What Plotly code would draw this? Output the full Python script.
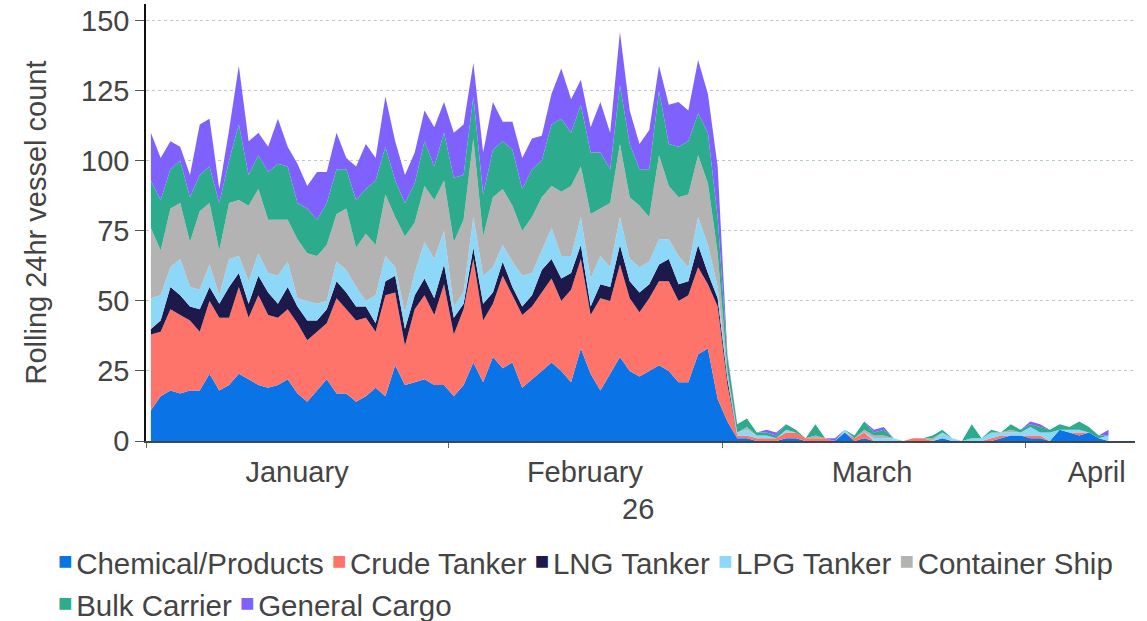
import plotly.graph_objects as go
import pandas as pd

# daily rolling 24hr counts, 1 Jan - 9 Apr 2026
dates = pd.date_range("2026-01-01 12:00", periods=99, freq="D")

chemical_products = [11, 16, 18, 17, 18, 18, 24, 18, 20, 24, 22, 20, 19, 20, 22, 17, 14, 18, 22, 17,
                     17, 14, 16, 19, 16, 27, 20, 21, 22, 20, 20, 16, 20, 28, 21, 30, 26, 28, 19, 22,
                     25, 28, 25, 21, 33, 24, 18, 24, 30, 25, 23, 25, 27, 25, 21, 21, 31, 33, 15, 7,
                     1, 1, 0, 0, 0, 1, 1, 0, 0, 0, 0, 3, 0, 1, 0, 0, 0, 0, 0, 0,
                     0, 1, 0, 0, 0, 0, 0, 1, 2, 2, 1, 1, 0, 4, 3, 2, 3, 1, 0]
crude_tanker = [27, 23, 29, 28, 25, 21, 26, 26, 24, 31, 22, 32, 26, 24, 25, 25, 22, 21, 20, 34,
                30, 29, 28, 20, 36, 26, 14, 26, 30, 25, 36, 22, 27, 37, 22, 19, 33, 24, 26, 26,
                28, 30, 25, 33, 32, 21, 33, 26, 33, 26, 23, 26, 30, 32, 29, 31, 31, 23, 33, 13,
                1, 1, 1, 1, 1, 2, 2, 1, 1, 1, 0, 0, 1, 2, 0, 0, 0, 0, 1, 1,
                0, 0, 0, 0, 0, 0, 1, 1, 0, 0, 1, 1, 0, 0, 0, 1, 0, 0, 0]
lng_tanker = [2, 4, 8, 7, 5, 8, 5, 5, 11, 5, 5, 7, 8, 5, 8, 6, 7, 4, 5, 6,
              6, 5, 4, 3, 5, 6, 6, 5, 6, 6, 7, 6, 2, 4, 6, 4, 5, 3, 3, 4,
              8, 7, 8, 6, 5, 3, 5, 5, 7, 6, 7, 5, 6, 8, 6, 5, 8, 4, 3, 2,
              0, 0, 0, 0, 0, 0, 0, 0, 0, 0, 0, 0, 0, 0, 0, 0, 0, 0, 0, 0,
              0, 0, 0, 0, 0, 0, 0, 0, 0, 0, 0, 0, 0, 0, 0, 0, 0, 0, 0]
lpg_tanker = [11, 9, 7, 13, 7, 7, 8, 3, 10, 6, 8, 8, 7, 10, 9, 3, 7, 6, 3, 7,
              8, 7, 2, 10, 9, 3, 6, 8, 13, 14, 12, 4, 4, 11, 10, 9, 6, 9, 11, 8,
              7, 11, 8, 6, 10, 10, 10, 7, 10, 8, 9, 8, 9, 7, 10, 5, 10, 10, 4, 1,
              1, 2, 1, 1, 0, 1, 0, 0, 0, 0, 0, 1, 0, 0, 1, 1, 1, 0, 0, 0,
              0, 2, 1, 0, 1, 1, 2, 1, 1, 1, 3, 1, 3, 0, 1, 1, 0, 0, 2]
container_ship = [25, 16, 21, 20, 16, 28, 22, 16, 20, 20, 27, 23, 19, 20, 15, 21, 17, 17, 20, 17,
                  22, 14, 24, 18, 22, 18, 27, 18, 20, 21, 18, 23, 26, 28, 14, 25, 20, 20, 16, 20,
                  19, 15, 23, 25, 18, 23, 17, 23, 26, 22, 22, 16, 30, 19, 21, 26, 22, 22, 12, 2,
                  0, 1, 0, 0, 0, 0, 0, 0, 1, 0, 0, 0, 0, 1, 1, 1, 0, 0, 0, 0,
                  1, 0, 0, 0, 0, 0, 0, 0, 1, 0, 0, 0, 0, 0, 0, 0, 0, 0, 0]
bulk_carrier = [17, 18, 14, 15, 16, 13, 13, 17, 15, 27, 11, 12, 17, 20, 19, 13, 16, 13, 15, 16,
                14, 17, 16, 23, 17, 13, 12, 14, 16, 12, 17, 23, 16, 15, 15, 17, 17, 20, 15, 17,
                13, 22, 26, 19, 22, 22, 20, 12, 21, 19, 13, 17, 23, 15, 18, 19, 15, 18, 13, 5,
                3, 3, 1, 1, 1, 2, 1, 0, 4, 0, 0, 0, 1, 3, 1, 2, 0, 0, 0, 0,
                1, 1, 0, 0, 5, 0, 1, 0, 2, 1, 1, 2, 1, 2, 1, 3, 2, 1, 0]
general_cargo = [17, 15, 10, 5, 8, 18, 17, 5, 11, 21, 12, 8, 9, 16, 7, 14, 8, 17, 11, 13,
                 4, 12, 16, 8, 18, 14, 10, 11, 11, 14, 11, 16, 18, 12, 15, 17, 7, 10, 11, 11,
                 9, 11, 18, 12, 9, 9, 18, 13, 19, 12, 9, 14, 9, 14, 16, 11, 19, 14, 18, 1,
                 0, 0, 0, 1, 1, 0, 0, 0, 0, 0, 1, 0, 0, 0, 1, 1, 0, 0, 0, 0,
                 0, 0, 0, 0, 0, 0, 0, 0, 0, 0, 1, 1, 0, 0, 0, 0, 0, 0, 2]

series_names = ["Chemical/Products", "Crude Tanker", "LNG Tanker", "LPG Tanker",
                "Container Ship", "Bulk Carrier", "General Cargo"]
series_values = [chemical_products, crude_tanker, lng_tanker, lpg_tanker,
                 container_ship, bulk_carrier, general_cargo]
colors = ["#0a74e6", "#fe746a", "#1d1a4b", "#8dd8f8", "#b3b3b3", "#2dab8d", "#7f62fe"]

month_labels = ["January", "February", "March", "April"]
month_label_pos = ["2026-01-16 11:00", "2026-02-14 22:00", "2026-03-16 07:00", "2026-04-08 07:00"]

FONT = "Liberation Sans, Arial, sans-serif"
TXT = "#444444"

fig = go.Figure()
for name, vals, col in zip(series_names, series_values, colors):
    fig.add_trace(go.Scatter(x=dates, y=vals, name=name, mode="none",
                             stackgroup="one", fillcolor=col, showlegend=False))

# legend drawn as two rows of text
def legend_row(idx):
    parts = []
    for i in idx:
        parts.append(f"<span style='font-size:24px;baseline-shift:5px;color:{colors[i]}'>■</span>"
                     f"<span style='font-size:13px'> </span>{series_names[i]}")
    return " ".join(parts)

for idx, ypix in [([0, 1, 2, 3, 4], 563), ([5, 6], 605)]:
    fig.add_annotation(text=legend_row(idx), xref="paper", yref="paper",
                       x=(56 - 146) / 989, y=(441 - ypix) / 437,
                       xanchor="left", yanchor="middle", showarrow=False,
                       font=dict(family=FONT, size=29.5, color=TXT))

# year under February
fig.add_annotation(text="26", xref="x", yref="paper", x="2026-02-20 09:00",
                   y=(441 - 509) / 437, xanchor="center", yanchor="middle",
                   showarrow=False, font=dict(family=FONT, size=29, color=TXT))

fig.update_layout(
    width=1147, height=621,
    margin=dict(l=146, r=12, t=4, b=180),
    paper_bgcolor="white", plot_bgcolor="white",
    font=dict(family=FONT, size=29, color=TXT),
    xaxis=dict(
        type="date", range=["2026-01-01", "2026-04-12 05:00"], automargin=False,
        tickmode="array", tickvals=month_label_pos, ticktext=month_labels,
        ticks="", showgrid=False, zeroline=False,
        showline=True, linecolor="#3d4852", linewidth=2,
        tickfont=dict(size=29, color=TXT), ticklabelstandoff=4,
        minor=dict(ticks="outside", ticklen=5, tickcolor="#666666",
                   dtick="M1", tick0="2026-01-01", showgrid=False),
    ),
    yaxis=dict(
        range=[0, 156], tickvals=[0, 25, 50, 75, 100, 125, 150], automargin=False,
        ticks="outside", ticklen=9, tickcolor="#555555",
        showline=True, linecolor="#111111", linewidth=1.5,
        showgrid=True, gridcolor="#b9cad6", griddash="dot", gridwidth=1,
        zeroline=False, tickfont=dict(size=29, color=TXT),
        title=dict(text="Rolling 24hr vessel count", standoff=26,
                   font=dict(size=29, color=TXT)),
    ),
)

# page body has a default 8px margin; drop it so the figure fills the window
fig.write_html("out.html", config={"displayModeBar": False},
               post_script="document.body.style.margin='0';")
